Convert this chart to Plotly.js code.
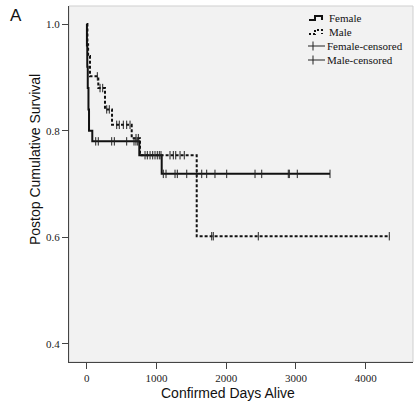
<!DOCTYPE html>
<html><head><meta charset="utf-8">
<script src="https://cdn.plot.ly/plotly-3.0.1.min.js"></script>
<style>html,body{margin:0;padding:0;background:#fff;}</style>
</head><body><div id="chart" style="width:415px;height:409px;"></div>
<script>
// Kaplan-Meier step data (days, cumulative survival)
const femaleTimes = [0, 3, 8, 15, 25, 33, 80, 754, 1075, 3488];
const femaleSurv  = [1.0, 0.96, 0.92, 0.88, 0.84, 0.80, 0.78, 0.754, 0.719, 0.719];
const maleTimes   = [0, 10, 20, 47, 166, 262, 363, 645, 764, 1577, 4348];
const maleSurv    = [1.0, 0.962, 0.940, 0.902, 0.880, 0.840, 0.811, 0.786, 0.754, 0.602, 0.602];

// Censored observations
const femaleCensTimes = [129, 166, 358, 396, 573, 678, 706, 731,
  836, 869, 908, 946, 979, 1012, 1041, 1065,
  1098, 1137, 1266, 1299, 1434, 1577, 1649, 1720, 1839, 2007, 2413, 2509, 2890, 2905, 3019, 3488];
const femaleCensSurv = [0.78, 0.78, 0.78, 0.78, 0.78, 0.78, 0.78, 0.78,
  0.754, 0.754, 0.754, 0.754, 0.754, 0.754, 0.754, 0.754,
  0.719, 0.719, 0.719, 0.719, 0.719, 0.719, 0.719, 0.719, 0.719, 0.719, 0.719, 0.719, 0.719, 0.719, 0.719, 0.719];
const maleCensTimes = [152, 191, 229, 287, 324, 430, 467, 525, 573, 621, 707, 740,
  1194, 1242, 1276, 1338, 1399, 1792, 1815, 2460, 4338];
const maleCensSurv = [0.902, 0.88, 0.88, 0.84, 0.84, 0.811, 0.811, 0.811, 0.811, 0.811, 0.786, 0.786,
  0.754, 0.754, 0.754, 0.754, 0.754, 0.602, 0.602, 0.602, 0.602];

const xTicks = [0, 1000, 2000, 3000, 4000];
const yTicks = [0.4, 0.6, 0.8, 1.0];
const yTickText = ['0.4', '0.6', '0.8', '1.0'];
const legendLabels = ['Female', 'Male', 'Female-censored', 'Male-censored'];

const W = 415, H = 409, L = 69, R = 2, T = 6, B = 47;
const pw = W - L - R, ph = H - T - B;
const px = v => (v - L) / pw;
const py = v => (H - B - v) / ph;
function pathPx(pts) {
  return pts.map((p, i) => (i ? 'L' : 'M') + px(p[0]).toFixed(4) + ',' + py(p[1]).toFixed(4)).join(' ');
}

const traces = [
  {x: femaleTimes, y: femaleSurv, mode: 'lines', line: {shape: 'hv', color: '#111', width: 2}, hoverinfo: 'skip'},
  {x: maleTimes, y: maleSurv, mode: 'lines', line: {shape: 'hv', color: '#111', width: 2, dash: '3px,2px'}, hoverinfo: 'skip'},
  {x: femaleCensTimes, y: femaleCensSurv, mode: 'markers',
   marker: {symbol: 'line-ns-open', size: 6, color: '#222', line: {width: 1, color: '#222'}}, hoverinfo: 'skip'},
  {x: maleCensTimes, y: maleCensSurv, mode: 'markers',
   marker: {symbol: 'line-ns-open', size: 6, color: '#222', line: {width: 1, color: '#222'}}, hoverinfo: 'skip'}
];

const serif = 'Liberation Serif, Times New Roman, serif';
const sans = 'Liberation Sans, Arial, sans-serif';

const rowY = [18, 32, 46, 60];
const shapes = [
  {type: 'rect', xref: 'paper', yref: 'paper', x0: 0, x1: 1, y0: 0, y1: 1, line: {color: '#cfcfcf', width: 1}, layer: 'below'},
  // legend icons
  {type: 'path', xref: 'paper', yref: 'paper', path: pathPx([[309, rowY[0] + 2], [315, rowY[0] + 2], [315, rowY[0] - 2], [322, rowY[0] - 2], [322, rowY[0] + 2]]), line: {color: '#111', width: 2}},
  {type: 'path', xref: 'paper', yref: 'paper', path: pathPx([[309, rowY[1] + 2], [315, rowY[1] + 2], [315, rowY[1] - 2], [322, rowY[1] - 2], [322, rowY[1] + 2]]), line: {color: '#111', width: 2, dash: '2px,2px'}},
  {type: 'line', xref: 'paper', yref: 'paper', x0: px(308), x1: px(325), y0: py(rowY[2]), y1: py(rowY[2]), line: {color: '#222', width: 1}},
  {type: 'line', xref: 'paper', yref: 'paper', x0: px(313), x1: px(313), y0: py(rowY[2] - 4.5), y1: py(rowY[2] + 4.5), line: {color: '#222', width: 1}},
  {type: 'line', xref: 'paper', yref: 'paper', x0: px(308), x1: px(325), y0: py(rowY[3]), y1: py(rowY[3]), line: {color: '#222', width: 1}},
  {type: 'line', xref: 'paper', yref: 'paper', x0: px(313), x1: px(313), y0: py(rowY[3] - 4.5), y1: py(rowY[3] + 4.5), line: {color: '#222', width: 1}}
];

const annotations = legendLabels.map((t, i) => ({
  text: t, xref: 'paper', yref: 'paper', x: px(i < 2 ? 327 : 325), y: py(rowY[i]),
  xanchor: 'left', yanchor: 'middle', showarrow: false, font: {family: serif, size: 11, color: '#111'}
}));
annotations.push({text: 'A', xref: 'paper', yref: 'paper', x: px(8), y: py(4), xanchor: 'left', yanchor: 'top',
  showarrow: false, font: {family: sans, size: 17, color: '#111'}});
annotations.push({text: 'Confirmed Days Alive', xref: 'paper', yref: 'paper', x: px(228), y: py(393),
  xanchor: 'center', yanchor: 'middle', showarrow: false, font: {family: sans, size: 14, color: '#111'}});
annotations.push({text: 'Postop Cumulative Survival', xref: 'paper', yref: 'paper', x: px(35), y: py(160),
  xanchor: 'center', yanchor: 'middle', textangle: -90, showarrow: false, font: {family: sans, size: 14, color: '#111'}});

const layout = {
  width: W, height: H,
  margin: {l: L, r: R, t: T, b: B, pad: 0},
  paper_bgcolor: '#ffffff', plot_bgcolor: '#f2f2f2',
  showlegend: false,
  xaxis: {range: [-254, 4678], tickvals: xTicks, ticktext: xTicks.map(String), ticks: 'outside', ticklen: 6,
    tickcolor: '#444', showline: true, linecolor: '#444', linewidth: 1, showgrid: false, zeroline: false,
    tickfont: {family: serif, size: 11, color: '#222'}},
  yaxis: {range: [0.366, 1.034], tickvals: yTicks, ticktext: yTickText, ticks: 'outside', ticklen: 6,
    tickcolor: '#444', showline: true, linecolor: '#444', linewidth: 1, showgrid: false, zeroline: false,
    tickfont: {family: serif, size: 11, color: '#222'}},
  shapes: shapes, annotations: annotations
};

Plotly.newPlot('chart', traces, layout, {displayModeBar: false, staticPlot: true});
</script></body></html>
